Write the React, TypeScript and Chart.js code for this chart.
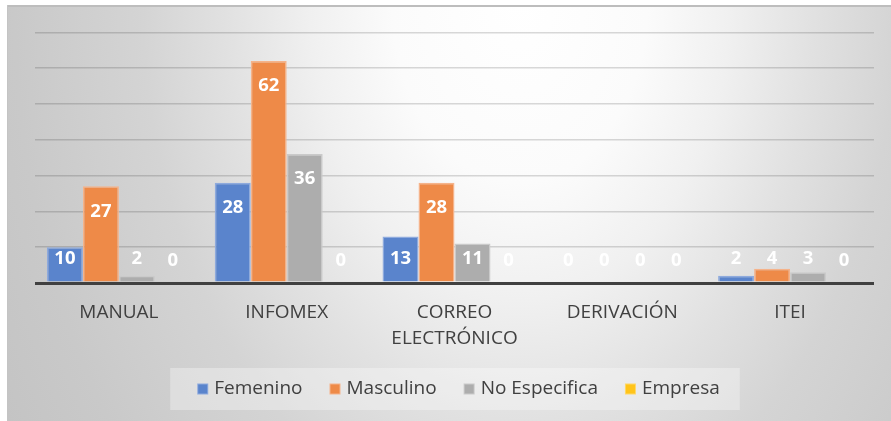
import React, { useEffect, useRef } from 'react';
import { Chart, registerables } from 'chart.js';

Chart.register(...registerables);

// ---- data ----
const categories: (string | string[])[] = ['MANUAL', 'INFOMEX', ['CORREO', 'ELECTRÓNICO'], 'DERIVACIÓN', 'ITEI'];
const seriesNames = ['Femenino', 'Masculino', 'No Especifica', 'Empresa'];
const femenino = [10, 28, 13, 0, 2];
const masculino = [27, 62, 28, 0, 4];
const noEspecifica = [2, 36, 11, 0, 3];
const empresa = [0, 0, 0, 0, 0];
const yMax = 70;
const yStep = 10;

const fills = ['#5a84cc', '#ee8a48', '#adadad', '#ffc41a'];
const borders = ['#8eaadd', '#f5b38a', '#cacaca', '#ffd866'];

const FONT = "'Open Sans', 'Noto Sans', sans-serif";

const backgroundPlugin = {
  id: 'bgBox',
  beforeDraw(chart: any) {
    const { ctx, width, height } = chart;
    ctx.save();
    ctx.fillStyle = '#ffffff';
    ctx.fillRect(0, 0, width, height);
    const x0 = 7, y0 = 5;
    const cx = 520, cy = 0, rx = 420, ry = 600;
    ctx.save();
    ctx.beginPath();
    ctx.rect(x0, y0, width - x0, height - y0);
    ctx.clip();
    ctx.translate(cx, cy);
    ctx.scale(rx, ry);
    const g = ctx.createRadialGradient(0, 0, 0, 0, 0, 1.45);
    g.addColorStop(0, '#ffffff');
    g.addColorStop(0.21, '#fbfbfb');
    g.addColorStop(0.345, '#f0f0f0');
    g.addColorStop(0.483, '#e1e1e1');
    g.addColorStop(0.62, '#d4d4d4');
    g.addColorStop(0.83, '#c9c9c9');
    g.addColorStop(1, '#c3c3c3');
    ctx.fillStyle = g;
    ctx.fillRect((x0 - cx) / rx, (y0 - cy) / ry, (width - x0) / rx, (height - y0) / ry);
    ctx.restore();
    ctx.fillStyle = '#bdbdbd';
    ctx.fillRect(x0, y0, width - x0, 2);
    ctx.fillStyle = '#c4c4c4';
    ctx.fillRect(x0, y0, 1, height - y0);
    ctx.restore();
  },
};

const dataLabelPlugin = {
  id: 'valueLabels',
  afterDatasetsDraw(chart: any) {
    const { ctx } = chart;
    ctx.save();
    ctx.font = `bold 18.5px ${FONT}`;
    ctx.fillStyle = '#ffffff';
    ctx.textAlign = 'center';
    ctx.textBaseline = 'middle';
    chart.data.datasets.forEach((ds: any, di: number) => {
      const meta = chart.getDatasetMeta(di);
      meta.data.forEach((el: any, i: number) => {
        const base = el.base;
        const y = Math.min(el.y + 25, base - 22.5);
        ctx.fillText(String(ds.data[i]), el.x, y);
      });
    });
    ctx.restore();
  },
};

const legendPlugin = {
  id: 'customLegend',
  afterDraw(chart: any) {
    const { ctx, chartArea } = chart;
    ctx.save();
    ctx.font = `19px ${FONT}`;
    const box = 11, gapText = 17, gapItem = 27;
    const items = chart.data.datasets.map((ds: any, i: number) => ({
      label: ds.label,
      color: fills[i],
      border: borders[i],
      w: ctx.measureText(ds.label).width,
    }));
    let total = 0;
    items.forEach((it: any, i: number) => {
      total += gapText + it.w + (i < items.length - 1 ? gapItem : 0);
    });
    const center = (chartArea.left + chartArea.right) / 2 + 4;
    let x = center - total / 2;
    const yc = 389;
    ctx.fillStyle = 'rgba(255,255,255,0.32)';
    ctx.fillRect(x - 27, 368, total + 47, 42);
    ctx.textBaseline = 'middle';
    ctx.textAlign = 'left';
    items.forEach((it: any) => {
      ctx.fillStyle = it.border;
      ctx.fillRect(x, yc - 5.5, box, box);
      ctx.fillStyle = it.color;
      ctx.fillRect(x + 1, yc - 4.5, box - 2, box - 2);
      ctx.fillStyle = '#404040';
      ctx.fillText(it.label, x + gapText, yc);
      x += gapText + it.w + gapItem;
    });
    ctx.restore();
  },
};

export default function App() {
  const ref = useRef<HTMLCanvasElement | null>(null);
  useEffect(() => {
    document.body.style.margin = '0';
    const canvas = ref.current!;
    const series = [femenino, masculino, noEspecifica, empresa];
    const chart = new Chart(canvas, {
      type: 'bar',
      data: {
        labels: categories as any,
        datasets: series.map((d, i) => ({
          label: seriesNames[i],
          data: d,
          backgroundColor: fills[i],
          borderColor: borders[i],
          borderWidth: 1.5,
          categoryPercentage: 0.858,
          barPercentage: 1,
        })),
      },
      options: {
        animation: false,
        responsive: false,
        maintainAspectRatio: false,
        devicePixelRatio: 1,
        layout: { padding: { left: 35, right: 17, top: 32.3, bottom: 52.8 } },
        plugins: {
          legend: { display: false },
          tooltip: { enabled: false },
        },
        scales: {
          x: {
            grid: { display: false, drawTicks: false },
            border: { display: false },
            ticks: {
              color: '#404040',
              padding: 16,
              maxRotation: 0,
              autoSkip: false,
              font: { family: FONT, size: 19, lineHeight: 1.4 },
            },
          },
          y: {
            min: 0,
            max: yMax,
            ticks: { display: false, stepSize: yStep },
            border: { display: false },
            grid: {
              drawTicks: false,
              color: (c: any) => (c.tick && c.tick.value === 0 ? '#404040' : 'rgba(0,0,0,0.15)'),
              lineWidth: (c: any) => (c.tick && c.tick.value === 0 ? 3 : 1.5),
            },
          },
        },
      },
      plugins: [backgroundPlugin, dataLabelPlugin, legendPlugin],
    });
    return () => chart.destroy();
  }, []);
  return (
    <div style={{ position: 'absolute', left: 0, top: 0, width: 891, height: 421 }}>
      <canvas ref={ref} width={891} height={421} style={{ display: 'block' }} />
    </div>
  );
}
